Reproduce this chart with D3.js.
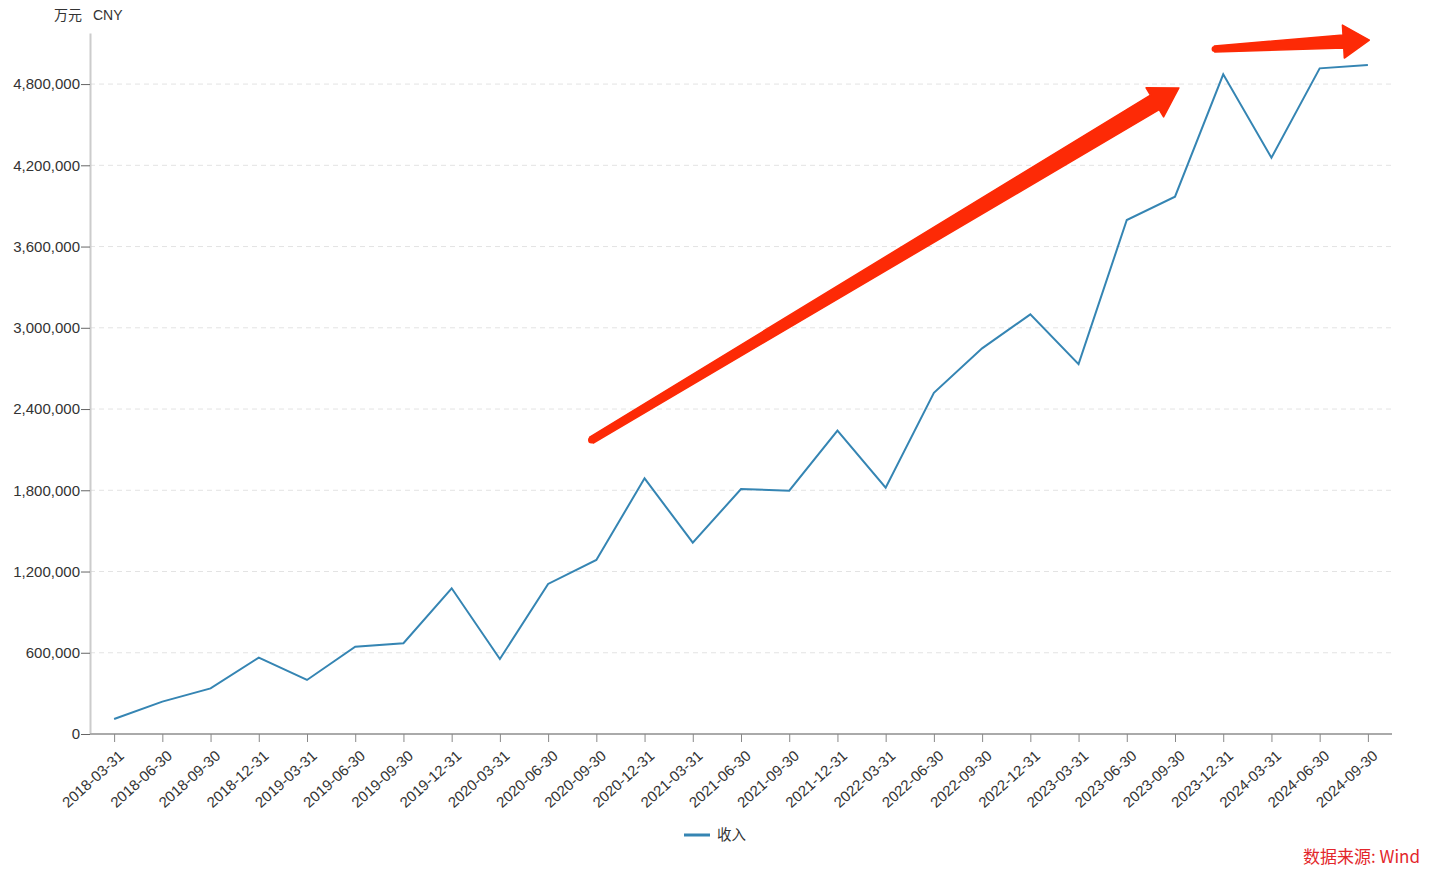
<!DOCTYPE html>
<html>
<head>
<meta charset="utf-8">
<script src="https://cdn.jsdelivr.net/npm/d3@7"></script>
<style>
  body { margin: 0; background: #fff; }
  svg { font-family: "Liberation Sans", Arial, "Noto Sans CJK SC", sans-serif; }
  .tick text { fill: #333; }
</style>
</head>
<body>
<div id="content"></div>
<script>
// quarterly revenue, 万元
var dates = ["2018-03-31", "2018-06-30", "2018-09-30", "2018-12-31",
  "2019-03-31", "2019-06-30", "2019-09-30", "2019-12-31",
  "2020-03-31", "2020-06-30", "2020-09-30", "2020-12-31",
  "2021-03-31", "2021-06-30", "2021-09-30", "2021-12-31",
  "2022-03-31", "2022-06-30", "2022-09-30", "2022-12-31",
  "2023-03-31", "2023-06-30", "2023-09-30", "2023-12-31",
  "2024-03-31", "2024-06-30", "2024-09-30"];
var revenue = [111000, 239000, 337000, 564000, 399000, 645000, 670000, 1076000,
  554000, 1108000, 1285000, 1888000, 1413000, 1809000, 1797000, 2240000,
  1819000, 2520000, 2848000, 3099000, 2732000, 3796000, 3968000, 4872000,
  4256000, 4916000, 4940000];
var yTicks = [0, 600000, 1200000, 1800000, 2400000, 3000000, 3600000, 4200000, 4800000];
var seriesName = "收入";
var unitCn = "万元";
var unitEn = "CNY";
var sourceLabel = "数据来源: Wind";

// annotation arrows: [index position, value] of tail and tip
var arrowTrend = [[9.9, 2171000], [22.08, 4771000]];
var arrowFlat = [[22.82, 5059000], [26.03, 5125000]];

var width = 1438, height = 870;
var margin = {top: 33, right: 46, bottom: 136, left: 90};
var lineColor = "#3585b3";
var red = "#fd2a06";

var svg = d3.select("#content").append("svg")
  .attr("width", width)
  .attr("height", height);

var x_scale = d3.scalePoint().domain(dates)
  .range([margin.left, width - margin.right]).padding(0.5);
var y_scale = d3.scaleLinear()
  .domain([0, d3.max(revenue) * 1.048])
  .range([height - margin.bottom, margin.top]);

function xAt(i) { return x_scale(dates[0]) + x_scale.step() * i; }

// grid
svg.append("g")
  .selectAll("line")
  .data(yTicks.slice(1))
  .enter().append("line")
  .attr("x1", margin.left).attr("x2", width - margin.right)
  .attr("y1", function(d) { return y_scale(d); })
  .attr("y2", function(d) { return y_scale(d); })
  .attr("stroke", "#e3e3e3")
  .attr("stroke-dasharray", "5,4");

// y axis
var yAxis = svg.append("g")
  .attr("transform", "translate(" + margin.left + ",0)")
  .call(d3.axisLeft(y_scale).tickValues(yTicks).tickSize(9).tickSizeOuter(0)
    .tickFormat(d3.format(",")));
yAxis.select(".domain").attr("stroke", "#ccc").attr("stroke-width", 2);
yAxis.selectAll(".tick line").attr("stroke", "#666");
yAxis.selectAll(".tick text").attr("font-size", 15).attr("x", -10);

// x axis
var xAxis = svg.append("g")
  .attr("transform", "translate(0," + (height - margin.bottom) + ")")
  .call(d3.axisBottom(x_scale).tickSize(8).tickSizeOuter(0));
xAxis.select(".domain").attr("stroke", "#aaa").attr("stroke-width", 2)
  .attr("d", "M" + margin.left + ",0H" + (width - margin.right));
xAxis.selectAll(".tick line").attr("stroke", "#888");
xAxis.selectAll(".tick text")
  .attr("font-size", 15)
  .attr("text-anchor", "end")
  .attr("dy", 0)
  .attr("transform", "translate(3,15) rotate(-42)");

// unit label
svg.append("text")
  .attr("x", 54).attr("y", 20)
  .attr("font-size", 14).attr("fill", "#333")
  .attr("font-family", "'Noto Sans CJK SC', sans-serif")
  .text(unitCn);
svg.append("text")
  .attr("x", 93).attr("y", 20)
  .attr("font-size", 14).attr("fill", "#333")
  .text(unitEn);

// series line
var line = d3.line()
  .x(function(d, i) { return x_scale(dates[i]); })
  .y(function(d) { return y_scale(d); });
svg.append("path")
  .datum(revenue)
  .attr("d", line)
  .attr("fill", "none")
  .attr("stroke", lineColor)
  .attr("stroke-width", 2);

// arrows
function arrow(pts, wTail, wShaft, wHead, headLen) {
  var x0 = xAt(pts[0][0]), y0 = y_scale(pts[0][1]);
  var x1 = xAt(pts[1][0]), y1 = y_scale(pts[1][1]);
  var dx = x1 - x0, dy = y1 - y0, len = Math.sqrt(dx * dx + dy * dy);
  var ux = dx / len, uy = dy / len, nx = -uy, ny = ux;
  var bx = x1 - ux * headLen, by = y1 - uy * headLen;
  var p = [
    [x0 + nx * wTail, y0 + ny * wTail],
    [bx + nx * wShaft, by + ny * wShaft],
    [bx + nx * wHead, by + ny * wHead],
    [x1, y1],
    [bx - nx * wHead, by - ny * wHead],
    [bx - nx * wShaft, by - ny * wShaft],
    [x0 - nx * wTail, y0 - ny * wTail]
  ];
  svg.append("path")
    .attr("d", "M" + p.join("L") + "Z")
    .attr("fill", red)
    .attr("stroke", red)
    .attr("stroke-width", 1.5)
    .attr("stroke-linejoin", "round");
  svg.append("circle")
    .attr("cx", x0).attr("cy", y0).attr("r", wTail)
    .attr("fill", red);
}
arrow(arrowTrend, 3.5, 8.5, 17, 28);
arrow(arrowFlat, 3, 6.5, 16.5, 26);

// legend
var legend = svg.append("g").attr("transform", "translate(684,835)");
legend.append("line")
  .attr("x1", 0).attr("x2", 26)
  .attr("stroke", lineColor).attr("stroke-width", 3);
legend.append("text")
  .attr("x", 33).attr("y", 5)
  .attr("font-size", 14.5).attr("fill", "#333")
  .attr("font-family", "'Noto Sans CJK SC', sans-serif")
  .text(seriesName);

// source
svg.append("text")
  .attr("x", 1420).attr("y", 863)
  .attr("text-anchor", "end")
  .attr("font-size", 17).attr("fill", "#e3262b")
  .attr("font-family", "'Noto Sans CJK SC', 'Liberation Sans', sans-serif")
  .text(sourceLabel);
</script>
</body>
</html>
